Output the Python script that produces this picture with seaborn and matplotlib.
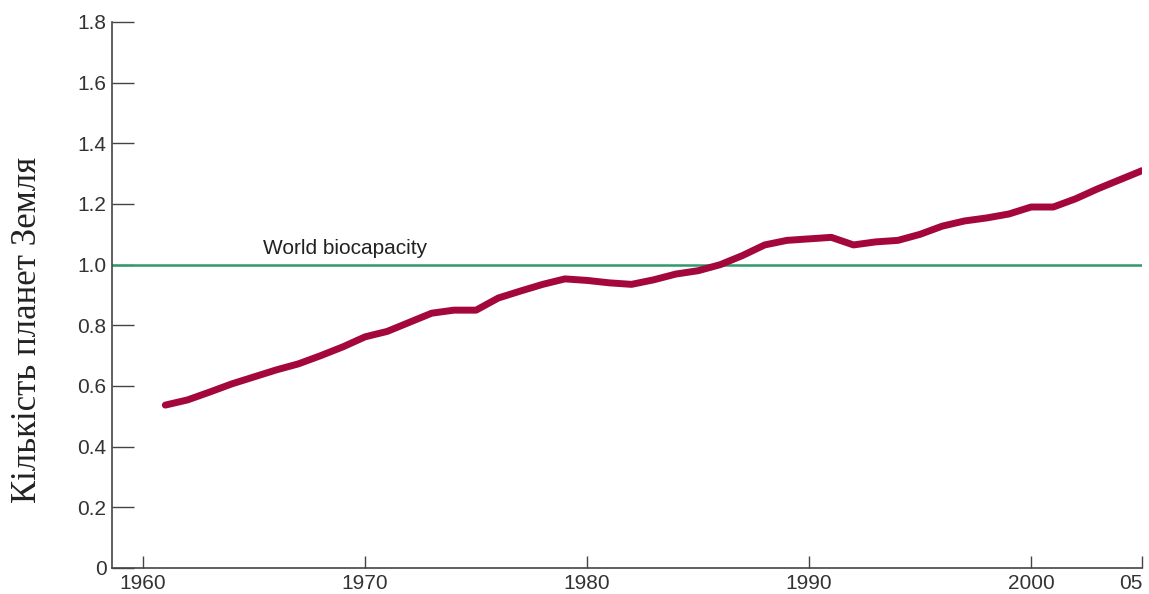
import matplotlib
matplotlib.use('Agg')
import matplotlib.pyplot as plt
import seaborn as sns
import pandas as pd

# дані: екологічний слід людства (кількість планет)
years = list(range(1961, 2006))
planets = [0.537, 0.554, 0.580, 0.607, 0.630, 0.653, 0.673, 0.700, 0.729, 0.762,
           0.780, 0.810, 0.840, 0.850, 0.850, 0.890, 0.913, 0.935, 0.953, 0.948,
           0.940, 0.935, 0.950, 0.969, 0.980, 1.000, 1.030, 1.065, 1.080, 1.085,
           1.090, 1.065, 1.075, 1.080, 1.100, 1.127, 1.144, 1.154, 1.167, 1.190,
           1.190, 1.217, 1.250, 1.280, 1.310]
biocapacity = 1.0
xtick_pos = [1960, 1970, 1980, 1990, 2000, 2005]
xtick_labels = ['1960', '1970', '1980', '1990', '2000', '05']
ytick_pos = [0, 0.2, 0.4, 0.6, 0.8, 1.0, 1.2, 1.4, 1.6, 1.8]
ytick_labels = ['0', '0.2', '0.4', '0.6', '0.8', '1.0', '1.2', '1.4', '1.6', '1.8']

df = pd.DataFrame({'year': years, 'planets': planets})

sns.set_style('ticks')
plt.rcParams['font.family'] = ['Liberation Sans', 'DejaVu Sans']

fig = plt.figure(figsize=(11.49, 5.94), dpi=100)
ax = fig.add_axes([0.0975, 0.0438, 0.8965, 0.9192])

ax.axhline(biocapacity, color='#2E9B68', lw=1.8, zorder=1)
sns.lineplot(data=df, x='year', y='planets', ax=ax, color='#A3073C',
             lw=5, solid_capstyle='round', zorder=2)

ax.text(1965.4, 1.022, 'World biocapacity', fontsize=15, color='#222222',
        ha='left', va='bottom')

ax.set_xlim(1958.6, 2005)
ax.set_ylim(0, 1.8)
ax.set_xticks(xtick_pos)
ax.set_xticklabels(xtick_labels)
ax.set_yticks(ytick_pos)
ax.set_yticklabels(ytick_labels)
ax.tick_params(axis='x', direction='in', length=9, width=1, colors='#444444',
               labelcolor='#333333', labelsize=15, pad=4)
ax.tick_params(axis='y', direction='in', length=16, width=1, colors='#444444',
               labelcolor='#333333', labelsize=15, pad=4)
ax.get_xticklabels()[-1].set_horizontalalignment('right')

ax.set_xlabel('')
ax.set_ylabel('Кількість планет Земля', family=['Liberation Serif', 'DejaVu Serif'],
              fontsize=25, color='#222222')
ax.yaxis.set_label_coords(-0.066, 0.436)

sns.despine(ax=ax)
for s in ['left', 'bottom']:
    ax.spines[s].set_color('#444444')
    ax.spines[s].set_linewidth(1.2)

fig.savefig('out.png', dpi=100)
